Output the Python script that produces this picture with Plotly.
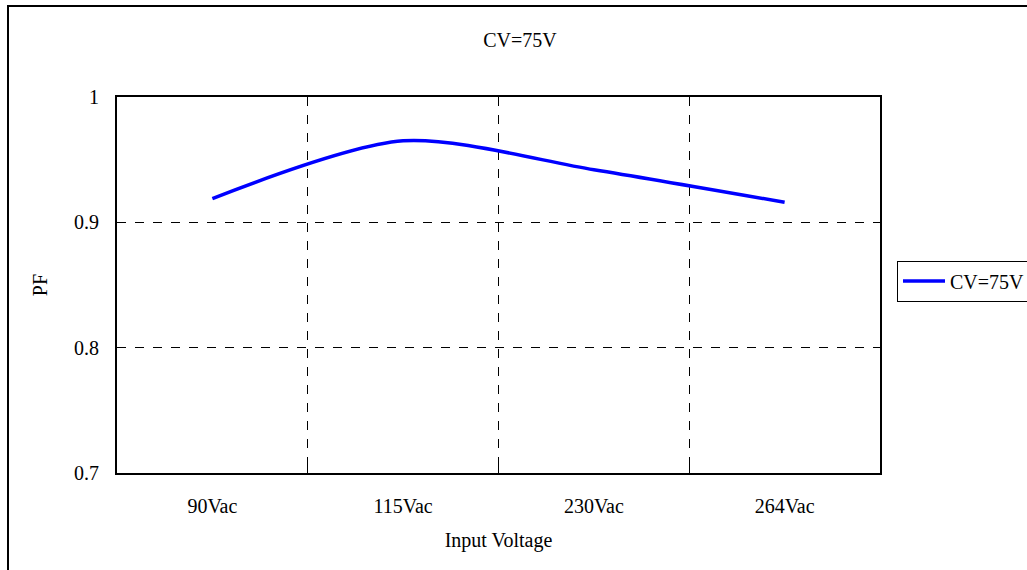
import plotly.graph_objects as go

categories = ["90Vac", "115Vac", "230Vac", "264Vac"]
pf_values = [0.919, 0.965, 0.942, 0.916]
series_name = "CV=75V"
y_ticks = [0.7, 0.8, 0.9, 1.0]
y_tick_labels = ["0.7", "0.8", "0.9", "1"]

FONT = "Liberation Serif, DejaVu Serif, serif"
FS = 20
W, H = 1027, 570
L, R, T, B = 117, 147, 97, 97
pw, ph = W - L - R, H - T - B

fig = go.Figure()
fig.add_trace(go.Scatter(
    x=categories, y=pf_values, name=series_name, mode="lines",
    line=dict(color="#0000FF", width=3.5, shape="spline", smoothing=0.8),
))

fig.update_layout(
    width=W, height=H,
    margin=dict(l=L, r=R, t=T, b=B, autoexpand=False),
    paper_bgcolor="white", plot_bgcolor="white",
    font=dict(family=FONT, size=FS, color="#000000"),
    title=dict(text=series_name, x=520 / W, xref="container", xanchor="center",
               y=1 - 40 / H, yref="container", yanchor="middle",
               font=dict(family=FONT, size=FS, color="#000000")),
    showlegend=True,
    legend=dict(x=(897 - L) / pw, y=(T + ph - 281) / ph, xanchor="left", yanchor="middle",
                bordercolor="#000000", borderwidth=1, bgcolor="white",
                font=dict(family=FONT, size=FS, color="#000000"),
                itemwidth=42, tracegroupgap=0),
    xaxis=dict(
        type="category", range=[-0.5, 3.5], tickson="boundaries",
        ticks="inside", ticklen=8, tickcolor="#000000", tickwidth=1,
        showgrid=True, gridcolor="#000000", griddash="dash", gridwidth=1,
        showline=True, linecolor="#000000", linewidth=2, mirror=True,
        ticklabelstandoff=14, automargin=False,
        title=dict(text="Input Voltage", standoff=17,
                   font=dict(family=FONT, size=FS, color="#000000")),
        zeroline=False,
    ),
    yaxis=dict(
        range=[0.7, 1.0], tickvals=y_ticks, ticktext=y_tick_labels,
        ticks="inside", ticklen=8, tickcolor="#000000", tickwidth=1,
        showgrid=True, gridcolor="#000000", griddash="dash", gridwidth=1,
        showline=True, linecolor="#000000", linewidth=2, mirror=True,
        ticklabelstandoff=12, automargin=False,
        title=dict(text="PF", standoff=21,
                   font=dict(family=FONT, size=FS, color="#000000")),
        zeroline=False,
    ),
    shapes=[dict(type="rect", xref="paper", yref="paper",
                 x0=(8 - L) / pw, x1=(W + 20 - L) / pw,
                 y0=(T + ph - (H + 20)) / ph, y1=(T + ph - 6) / ph,
                 line=dict(color="#000000", width=2), fillcolor="rgba(0,0,0,0)",
                 layer="below")],
)

fig.write_html("out.html", config={"displayModeBar": False},
               post_script="document.body.style.margin='0';document.body.style.overflow='hidden';")
